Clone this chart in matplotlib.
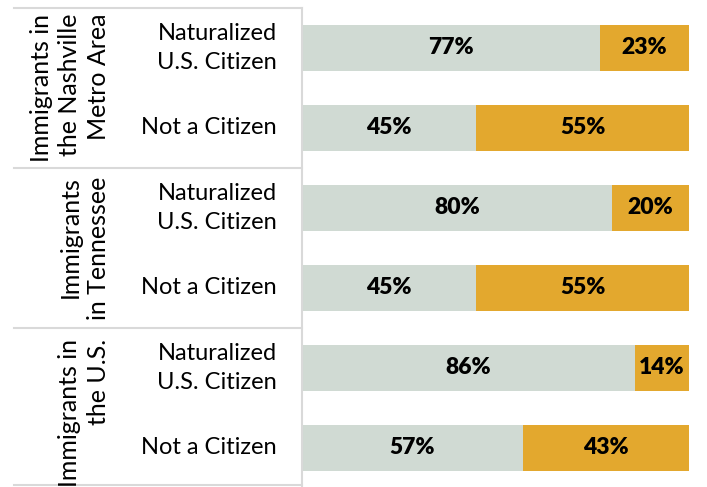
import numpy as np
import matplotlib.pyplot as plt

# datos
grupos = ["Immigrants in\nthe Nashville\nMetro Area", "Immigrants\nin Tennessee", "Immigrants in\nthe U.S."]
categorias = ["Naturalized\nU.S. Citizen", "Not a Citizen"] * 3
gris = [77, 45, 80, 45, 86, 57]
oro = [23, 55, 20, 55, 14, 43]

COLOR_GRIS = "#D0DAD3"
COLOR_ORO = "#E3A82E"
COLOR_LINEA = "#D9D9D9"
FUENTE = ["Lato", "DejaVu Sans"]

W, H = 707, 487
fig = plt.figure(figsize=(W / 100, H / 100), dpi=100)
# eje de barras: x de 302 a 689 px, y de 8 a 488 px
ax = fig.add_axes([302 / W, (H - 488) / H, (689 - 302) / W, 480 / H])

y = np.arange(len(gris))
ax.barh(y, gris, height=0.575, color=COLOR_GRIS)
ax.barh(y, oro, left=gris, height=0.575, color=COLOR_ORO)

for i in range(len(gris)):
    ax.text(gris[i] / 2, y[i], f"{gris[i]}%", ha="center", va="center",
            fontsize=16.5, fontweight="heavy", family=FUENTE)
    ax.text(gris[i] + oro[i] / 2, y[i], f"{oro[i]}%", ha="center", va="center",
            fontsize=16.5, fontweight="heavy", family=FUENTE)

ax.set_xlim(0, 100)
ax.set_ylim(5.5, -0.5)
ax.set_xticks([])
ax.set_yticks([])
for lado in ["top", "right", "bottom"]:
    ax.spines[lado].set_visible(False)
ax.spines["left"].set_color(COLOR_LINEA)
ax.spines["left"].set_linewidth(1.5)

# zona de etiquetas tipo tabla
px = 100 / 387
x_izq = (14 - 302) * px
for yl in [-0.5, 1.5, 3.5, 5.46]:
    ax.plot([x_izq, 0], [yl, yl], color=COLOR_LINEA, lw=1.5, clip_on=False)

for i, cat in enumerate(categorias):
    ax.text((277 - 302) * px, y[i], cat, ha="right", va="center",
            fontsize=17, family=FUENTE, linespacing=1.45)

pos_grupo = [0.5, 2.5, 4.56]
for g, yg in zip(grupos, pos_grupo):
    ax.text((110 - 302) * px, yg, g, ha="right", va="center", rotation=90,
            fontsize=18, family=FUENTE, linespacing=1.3, clip_on=False)

fig.savefig("out.png", dpi=100)
